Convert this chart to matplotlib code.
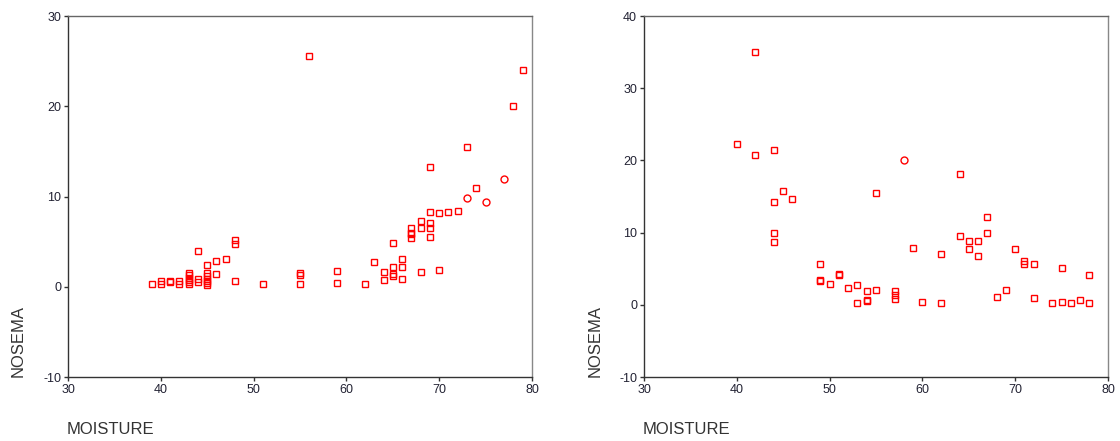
import matplotlib
matplotlib.use('Agg')
import matplotlib.pyplot as plt
import numpy as np

plt.rcParams['font.family'] = ['Liberation Sans', 'DejaVu Sans']
plt.rcParams['axes.unicode_minus'] = False

'''
    data read off the picture (squares + a few circles)
'''
x_left = [39, 40, 40, 41, 41, 42, 42, 43, 43, 43, 43, 43, 43, 44, 44, 44,
          45, 45, 45, 45, 45, 45, 45, 46, 46, 47, 48, 48, 48, 51, 55, 55, 55,
          56, 59, 59, 62, 63, 64, 64, 65, 65, 65, 65, 66, 66, 66, 67, 67, 67, 67,
          68, 68, 68, 69, 69, 69, 69, 69, 70, 70, 71, 72, 73, 74, 78, 79]
y_left = [0.3, 0.6, 0.3, 0.6, 0.55, 0.6, 0.3, 1.5, 1.25, 1.0, 0.75, 0.55, 0.3, 4.0, 0.85, 0.5,
          2.4, 1.5, 1.2, 0.85, 0.65, 0.4, 0.2, 2.8, 1.4, 3.1, 5.2, 4.7, 0.6, 0.3, 1.5, 1.3, 0.3,
          25.6, 1.7, 0.4, 0.3, 2.7, 1.6, 0.75, 4.8, 2.2, 1.4, 1.2, 3.1, 2.2, 0.85, 6.5, 6.0, 5.8, 5.4,
          7.3, 6.5, 1.6, 13.3, 8.3, 7.1, 6.5, 5.5, 8.2, 1.9, 8.3, 8.4, 15.5, 10.9, 20.0, 24.0]
x_left_c = [73, 75, 77]
y_left_c = [9.8, 9.4, 11.9]

x_right = [40, 42, 42, 44, 44, 44, 44, 45, 46, 49, 49, 49, 50, 51, 51, 52, 53, 53,
           54, 54, 54, 55, 55, 57, 57, 57, 59, 60, 62, 62, 64, 64, 65, 65, 66, 66,
           67, 67, 68, 69, 70, 71, 71, 72, 72, 74, 75, 75, 76, 77, 78, 78]
y_right = [22.3, 35.0, 20.8, 21.5, 14.3, 10.0, 8.7, 15.7, 14.7, 5.7, 3.5, 3.3, 2.9, 4.3, 4.1, 2.3, 2.8, 0.3,
           1.9, 0.6, 0.5, 15.5, 2.0, 1.9, 1.3, 0.8, 7.9, 0.4, 7.0, 0.3, 18.1, 9.5, 8.8, 7.7, 8.8, 6.7,
           12.1, 10.0, 1.1, 2.0, 7.7, 6.0, 5.6, 5.6, 0.9, 0.3, 5.1, 0.4, 0.3, 0.7, 4.1, 0.3]
x_right_c = [58]
y_right_c = [20.0]

x_ticks = [30, 40, 50, 60, 70, 80]
y_ticks_left = [-10, 0, 10, 20, 30]
y_ticks_right = [-10, 0, 10, 20, 30, 40]

W, H = 1120, 441
fig = plt.figure(figsize=(W/100, H/100), dpi=100)

def make_axes(left_px, xs, ys, xc, yc, yticks):
    ax = fig.add_axes([left_px/W, (H-377)/H, 464/W, 361/H])
    ax.plot(xs, ys, 's', ms=4.5, mfc='none', mec='red', mew=1.0)
    ax.plot(xc, yc, 'o', ms=5, mfc='none', mec='red', mew=1.0)
    ax.set_xlim(30, 80)
    ax.set_ylim(yticks[0], yticks[-1])
    ax.set_xticks(x_ticks)
    ax.set_yticks(yticks)
    ax.tick_params(length=3, width=1, color='#333333', labelsize=9, labelcolor='#222233', pad=2)
    for s in ax.spines.values():
        s.set_color('#333333')
        s.set_linewidth(1.0)
    ax.spines['top'].set_color('#666666')
    ax.spines['right'].set_color('#888888')
    return ax

ax1 = make_axes(68, x_left, y_left, x_left_c, y_left_c, y_ticks_left)
ax2 = make_axes(644, x_right, y_right, x_right_c, y_right_c, y_ticks_right)

for xl, yl, xm in [(18, 377, 67), (595, 377, 643)]:
    fig.text(xl/W, (H-yl)/H, 'NOSEMA', rotation=90, ha='center', va='bottom',
             fontsize=12, color='#333333')
    fig.text(xm/W, (H-430)/H, 'MOISTURE', ha='left', va='center',
             fontsize=12, color='#333333')

fig.savefig('out.png', dpi=100, facecolor='white')
